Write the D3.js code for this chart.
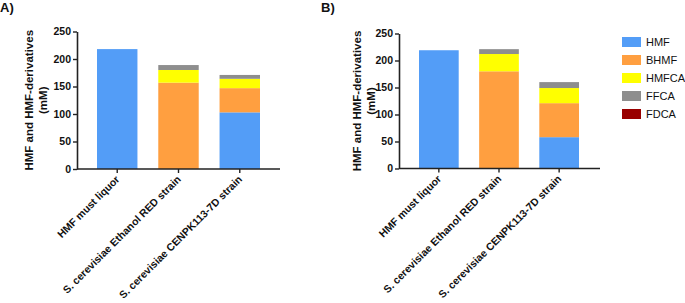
<!DOCTYPE html>
<html>
<head>
<meta charset="utf-8">
<script src="https://cdn.jsdelivr.net/npm/d3@7"></script>
<style>
  body { margin: 0; background: #fff; }
  svg { display: block; font-family: "Liberation Sans", Arial, sans-serif; }
</style>
</head>
<body>
<div id="chart"></div>
<script>
// categories (x axis)
var categories = ["HMF must liquor", "S. cerevisiae Ethanol RED strain", "S. cerevisiae CENPK113-7D strain"];
// stacked series, bottom to top
var seriesNames = ["HMF", "BHMF", "HMFCA", "FFCA", "FDCA"];
var seriesColors = ["#539df7", "#ff9f40", "#ffff00", "#8e8e8e", "#990000"];
// panel A values (mM)
var hmfA   = [218, 0, 103];
var bhmfA  = [0, 157, 44];
var hmfcaA = [0, 23, 17];
var ffcaA  = [0, 9, 7];
var fdcaA  = [0, 0, 0];
// panel B values (mM)
var hmfB   = [219, 0, 58];
var bhmfB  = [0, 180, 63];
var hmfcaB = [0, 32, 28];
var ffcaB  = [0, 9, 11];
var fdcaB  = [0, 0, 0];
// y ticks
var yTicks = [0, 50, 100, 150, 200, 250];

var W = 685, H = 303;
var svg = d3.select("#chart").append("svg")
  .attr("width", W).attr("height", H);

function buildRows(cols){
  return categories.map(function(c, i){
    var r = {cat: c};
    seriesNames.forEach(function(s, k){ r[s] = cols[k][i]; });
    return r;
  });
}

var colorScale = d3.scaleOrdinal().domain(seriesNames).range(seriesColors);

// draws one panel
function drawPanel(cfg){
  var rows = buildRows(cfg.cols);
  var stack = d3.stack().keys(seriesNames)(rows);

  var y = d3.scaleLinear().domain([0, 250]).range([cfg.y0, cfg.y250]);
  var x = d3.scaleBand().domain(categories)
    .range([cfg.barL, cfg.barR])
    .paddingInner(0.34).paddingOuter(0);

  var g = svg.append("g");

  // bars
  g.selectAll("g.layer")
    .data(stack)
    .join("g")
    .attr("class", "layer")
    .attr("fill", d => colorScale(d.key))
    .selectAll("rect")
    .data(d => d)
    .join("rect")
    .attr("x", d => x(d.data.cat))
    .attr("width", x.bandwidth())
    .attr("y", d => y(d[1]))
    .attr("height", d => Math.max(0, y(d[0]) - y(d[1])));

  // y axis
  var yAxis = d3.axisLeft(y).tickValues(yTicks).tickSize(4).tickSizeOuter(0).tickPadding(2);
  var ya = g.append("g")
    .attr("transform", `translate(${cfg.axisX},0)`)
    .call(yAxis);
  ya.select(".domain").attr("stroke", "#222").attr("stroke-width", 1.6);
  ya.selectAll(".tick line").attr("stroke", "#222").attr("stroke-width", 1.4);
  ya.selectAll(".tick text")
    .attr("fill", "#111")
    .attr("font-size", "10.5px")
    .attr("font-weight", "bold");

  // x axis
  var xAxis = d3.axisBottom(x).tickSize(4).tickSizeOuter(0).tickFormat("");
  var xa = g.append("g")
    .attr("transform", `translate(0,${cfg.y0})`)
    .call(xAxis);
  xa.select(".domain").remove();
  xa.selectAll(".tick line").attr("stroke", "#222").attr("stroke-width", 1.4);
  g.append("line")
    .attr("x1", cfg.axisX).attr("x2", cfg.axisEnd)
    .attr("y1", cfg.y0).attr("y2", cfg.y0)
    .attr("stroke", "#222").attr("stroke-width", 1.6);

  // rotated category labels
  g.selectAll("text.cat")
    .data(categories)
    .join("text")
    .attr("class", "cat")
    .attr("transform", d => `translate(${x(d) + x.bandwidth()/2 + 3},${cfg.y0 + 11}) rotate(-45)`)
    .attr("text-anchor", "end")
    .attr("font-size", "10.5px")
    .attr("font-weight", "bold")
    .attr("fill", "#111")
    .text(d => d);

  // y label (two lines)
  var midY = (cfg.y0 + cfg.y250) / 2;
  g.append("text")
    .attr("transform", `translate(${cfg.labX1},${midY}) rotate(-90)`)
    .attr("text-anchor", "middle")
    .attr("font-size", "11.5px").attr("font-weight", "bold").attr("fill", "#111")
    .text("HMF and HMF-derivatives");
  g.append("text")
    .attr("transform", `translate(${cfg.labX2},${midY}) rotate(-90)`)
    .attr("text-anchor", "middle")
    .attr("font-size", "11.5px").attr("font-weight", "bold").attr("fill", "#111")
    .text("(mM)");

  // panel letter
  svg.append("text")
    .attr("x", cfg.letterX).attr("y", 12)
    .attr("font-size", "13px").attr("font-weight", "bold").attr("fill", "#111")
    .text(cfg.letter);
}

drawPanel({
  cols: [hmfA, bhmfA, hmfcaA, ffcaA, fdcaA],
  y0: 169, y250: 31.5,
  axisX: 77, axisEnd: 280,
  barL: 97, barR: 260,
  labX1: 33, labX2: 47,
  letter: "A)", letterX: 0
});

drawPanel({
  cols: [hmfB, bhmfB, hmfcaB, ffcaB, fdcaB],
  y0: 168.5, y250: 33.5,
  axisX: 399, axisEnd: 600,
  barL: 419, barR: 579,
  labX1: 361, labX2: 375,
  letter: "B)", letterX: 321
});

// legend
var legend = svg.append("g").attr("transform", "translate(622,42)");
var ly = d3.scalePoint().domain(seriesNames).range([0, 72]);
legend.selectAll("rect")
  .data(seriesNames)
  .join("rect")
  .attr("x", 0).attr("y", d => ly(d) - 5)
  .attr("width", 19).attr("height", 10)
  .attr("fill", d => colorScale(d));
legend.selectAll("text")
  .data(seriesNames)
  .join("text")
  .attr("x", 24).attr("y", d => ly(d))
  .attr("dy", "0.36em")
  .attr("font-size", "11px")
  .attr("fill", "#111")
  .text(d => d);
</script>
</body>
</html>
